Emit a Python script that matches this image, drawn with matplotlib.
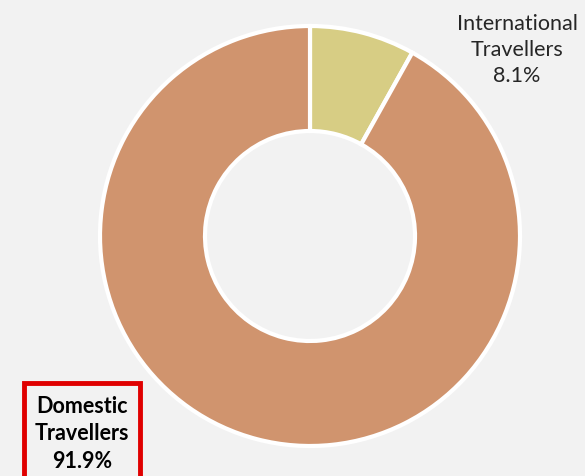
import matplotlib.pyplot as plt
from matplotlib.patches import Rectangle

labels = ['International\nTravellers', 'Domestic\nTravellers']
shares = [8.1, 91.9]
colors = ['#d7cd84', '#d0946e']

fig = plt.figure(figsize=(5.85, 4.77), dpi=100)
fig.patch.set_facecolor('#f2f2f2')
ax = fig.add_axes([0, 0, 1, 1])
ax.set_facecolor('#f2f2f2')

ax.pie(shares, colors=colors, startangle=90, counterclock=False,
       center=(310, 240), radius=210,
       wedgeprops=dict(width=105, edgecolor='white', linewidth=3))
ax.set_xlim(0, 585)
ax.set_ylim(0, 477)
ax.set_aspect('equal')
ax.axis('off')

plt.rcParams['font.family'] = ['Lato', 'DejaVu Sans']

ax.text(517, 427, f'{labels[0]}\n{shares[0]}%', ha='center', va='center',
        fontsize=15.5, color='#262626', linespacing=1.4)

# red boxed label for the domestic slice
ax.add_patch(Rectangle((24, -10), 116, 103, fill=False, edgecolor='#e00000',
                       linewidth=3.5, clip_on=True))
ax.text(82, 43, f'{labels[1]}\n{shares[1]}%', ha='center', va='center',
        fontsize=15.5, fontweight='bold', color='black', linespacing=1.4)

fig.savefig('out.png', dpi=100, facecolor=fig.get_facecolor())
